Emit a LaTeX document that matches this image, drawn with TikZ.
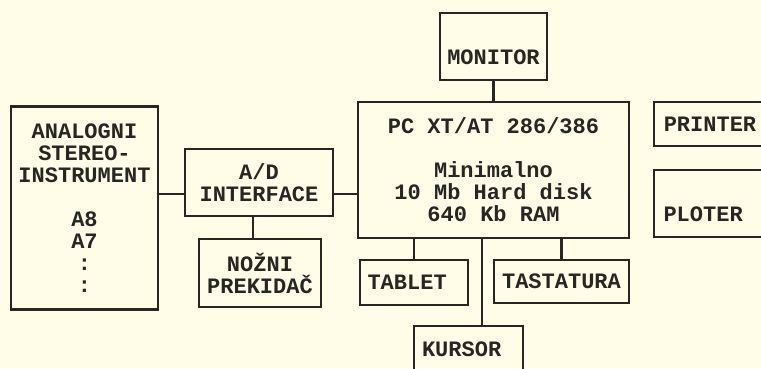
\documentclass[tikz,border=0pt]{standalone}
\usepackage{fontspec}
\setmonofont{Liberation Mono}
\definecolor{paper}{RGB}{255,253,232}
\definecolor{ink}{RGB}{40,38,34}

\begin{document}
\begin{tikzpicture}[x=1pt,y=1pt,
    box/.style={draw=ink,line width=2.2pt,rectangle,inner sep=0pt,
      align=center,text=ink,
      font=\ttfamily\bfseries\fontsize{22}{22}\selectfont},
    lowtext/.style={text height=35pt,text depth=0pt},
    lefttext/.style={text width=93,align=left},
    wire/.style={draw=ink,line width=2.2pt}]
            \clip (0,0) rectangle (761,368);
            \fill[paper] (0,0) rectangle (761,368);
            % left side
            \draw (84.5,160) node[box,minimum width=147,minimum height=203]
            (AN) {ANALOGNI\\STEREO-\\INSTRUMENT\\ \\A8\\A7\\:\\:};
            \draw (259,185.5) node[box,minimum width=148,minimum height=67]
            (AD) {A/D\\INTERFACE};
            \draw (260,95) node[box,minimum width=122,minimum height=68]
            (NO) {NOŽNI\\PREKIDAČ};
            % computer and its parts
            \draw (493.5,198) node[box,minimum width=271,minimum height=136]
            (PC) {PC XT/AT 286/386\\ \\Minimalno\\10 Mb Hard disk\\640 Kb RAM};
            \draw (493.5,321.5) node[box,lowtext,minimum width=107,
            minimum height=67] (MO) {MONITOR};
            \draw (414,85.5) node[box,lefttext,minimum width=108,
            minimum height=45] (TB) {TABLET};
            \draw (561.5,86.5) node[box,minimum width=135,minimum height=43]
            (TS) {TASTATURA};
            \draw (468.5,19) node[box,lefttext,minimum width=109,
            minimum height=46] (KU) {KURSOR};
            % right side
            \draw (710,244) node[box,minimum width=112,minimum height=44]
            (PR) {PRINTER};
            \draw (710,164.5) node[box,lowtext,lefttext,minimum width=112,
            minimum height=67] (PL) {PLOTER};
            % connections
            \coordinate (link) at (0,174);
            \coordinate (nx) at (253,0);
            \coordinate (kx) at (482,0);
            \draw[wire] (AN.east |- link)--(AD.west |- link);
            \draw[wire] (AD.east |- link)--(PC.west |- link);
            \draw[wire] (AD.south -| nx)--(NO.north -| nx);
            \draw[wire] (MO)--(PC);
            \draw[wire] (TB.north)--(TB.north |- PC.south);
            \draw[wire] (TS.north)--(TS.north |- PC.south);
            \draw[wire] (PC.south -| kx)--(KU.north -| kx);
            \end{tikzpicture}
\end{document}
